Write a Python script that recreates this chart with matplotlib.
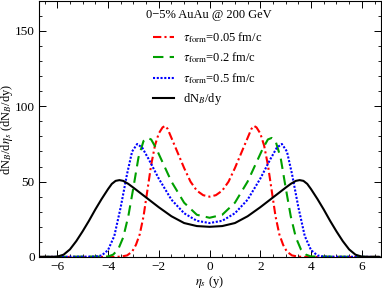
import numpy as np
import matplotlib.pyplot as plt
from matplotlib.ticker import MultipleLocator

plt.rcParams['font.family'] = 'Liberation Serif'
plt.rcParams['mathtext.fontset'] = 'stix'

# values (positive half; curves are symmetric in eta_s)
x_red = [0, 0.25, 0.5, 0.75, 1.0, 1.25, 1.5, 1.65, 1.75, 1.85, 2.0, 2.15, 2.3, 2.45,
         2.6, 2.75, 2.9, 3.05, 3.25, 3.5, 3.75, 6.7]
y_red = [40, 41, 44, 50, 59, 69, 79, 85, 87, 86, 82, 74, 61, 44,
         27, 15, 8, 3.5, 1, 0.2, 0, 0]

x_green = [0, 0.5, 1.0, 1.5, 1.8, 2.1, 2.3, 2.45, 2.6, 2.8, 3.0, 3.2, 3.4, 3.6, 3.8, 4.0, 6.7]
y_green = [26, 28, 36, 50, 61, 72, 78, 79, 77, 66, 46, 27, 13, 5, 1.5, 0.3, 0]

x_blue = [0, 0.5, 1.0, 1.5, 2.0, 2.4, 2.65, 2.85, 3.05, 3.25, 3.5, 3.75, 4.0, 4.25, 4.5, 6.7]
y_blue = [22.5, 24, 29, 38, 52, 65, 72.5, 75, 70, 55, 33, 14, 4.5, 1, 0.2, 0]

x_black = [0, 0.5, 1.0, 1.5, 2.0, 2.5, 3.0, 3.2, 3.4, 3.55, 3.7, 3.85, 4.0, 4.25, 4.5, 4.75,
           5.0, 5.25, 5.5, 5.75, 6.0, 6.7]
y_black = [20, 20.5, 22.5, 27, 33, 39.5, 46, 48.5, 50.5, 51, 50.5, 48.5, 45, 38.5, 31.5, 24,
           17, 10.5, 5, 1.5, 0.2, 0]

labels = [r'$\tau_{\mathrm{form}}$=0.05 fm/c', r'$\tau_{\mathrm{form}}$=0.2 fm/c',
          r'$\tau_{\mathrm{form}}$=0.5 fm/c', r'dN$_B$/dy']


def full(xh, yh):
    xh = np.array(xh); yh = np.array(yh)
    return np.concatenate([-xh[::-1], xh[1:]]), np.concatenate([yh[::-1], yh[1:]])


fig = plt.figure(figsize=(3.82, 2.90), dpi=100)
ax = fig.add_axes([0.102, 0.114, 0.895, 0.883])

styles = [
    (x_red, y_red, 'red', (0, (4, 1.5, 1, 1.5))),
    (x_green, y_green, '#00a000', (0, (5, 3))),
    (x_blue, y_blue, 'blue', (0, (1, 0.8))),
    (x_black, y_black, 'black', '-'),
]
for (xh, yh, c, ls), lab in zip(styles, labels):
    xx, yy = full(xh, yh)
    ax.plot(xx, yy, color=c, ls=ls, lw=1.5, label=lab)

ax.set_xlim(-6.72, 6.75)
ax.set_ylim(0, 170)
ax.xaxis.set_major_locator(MultipleLocator(2))
ax.xaxis.set_minor_locator(MultipleLocator(0.5))
ax.yaxis.set_major_locator(MultipleLocator(50))
ax.yaxis.set_minor_locator(MultipleLocator(10))
ax.tick_params(which='both', direction='in', top=True, right=True, labelsize=9.5, pad=3)
ax.tick_params(which='major', length=5, width=0.7)
ax.tick_params(which='minor', length=2.5, width=0.6)
for s in ax.spines.values():
    s.set_linewidth(0.8)

ax.set_xlabel(r'$\eta_s$ (y)', fontsize=9, labelpad=1)
ax.set_ylabel(r'dN$_B$/d$\eta_s$ (dN$_B$/dy)', fontsize=9, labelpad=0)

ax.text(0.496, 0.945, '0\u22125% AuAu @ 200 GeV', transform=ax.transAxes,
        ha='center', va='center', fontsize=9)
ax.legend(loc='upper left', bbox_to_anchor=(0.315, 0.91), frameon=False,
          fontsize=9, handlelength=1.7, labelspacing=0.45, handletextpad=0.7,
          borderpad=0)

fig.savefig('out.png', dpi=100)
